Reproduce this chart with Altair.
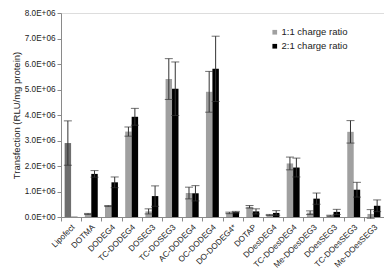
import altair as alt
import pandas as pd

categories = ["Lipofect", "DOTMA", "DODEG4", "TC-DODEG4", "DOSEG3", "TC-DOSEG3",
              "AC-DODEG4", "OC-DODEG4", "DO-DODEG4*", "DOTAP", "DOesDEG4",
              "TC-DOesDEG4", "Me-DOesDEG3", "DOesSEG3", "TC-DOesSEG3", "Me-DOesSEG3"]
series_names = ["1:1 charge ratio", "2:1 charge ratio"]
# values in units of 1E+06 RLU/mg protein
ratio_1_1 = [2.90, 0.12, 0.43, 3.35, 0.22, 5.41, 0.94, 4.91, 0.16, 0.40, 0.08, 2.10, 0.17, 0.05, 3.34, 0.12]
err_1_1 = [0.87, 0.02, 0.02, 0.18, 0.10, 0.80, 0.23, 0.80, 0.03, 0.05, 0.02, 0.25, 0.07, 0.02, 0.44, 0.17]
ratio_2_1 = [0.01, 1.69, 1.36, 3.93, 0.82, 5.03, 0.93, 5.81, 0.19, 0.22, 0.16, 1.94, 0.72, 0.20, 1.07, 0.44]
err_2_1 = [0.00, 0.13, 0.21, 0.33, 0.40, 1.05, 0.30, 1.28, 0.03, 0.10, 0.09, 0.37, 0.22, 0.10, 0.29, 0.23]
y_ticks = [0, 1e6, 2e6, 3e6, 4e6, 5e6, 6e6, 7e6, 8e6]

rows = []
for i, c in enumerate(categories):
    for s, vals, errs in ((series_names[0], ratio_1_1, err_1_1),
                          (series_names[1], ratio_2_1, err_2_1)):
        v = vals[i] * 1e6
        e = errs[i] * 1e6
        rows.append(dict(cat=c, series=s, value=v, err=e, lo=v - e, hi=v + e))
df = pd.DataFrame(rows)

FONT = "Liberation Sans"
TXT = "#222222"
AX = "#8a8a8a"

x_enc = alt.X("cat:N", sort=categories, title=None,
              scale=alt.Scale(paddingInner=0.36, paddingOuter=0.18),
              axis=alt.Axis(labelAngle=-45, labelAlign="right", labelBaseline="top",
                            labelFontSize=8.2, labelFont=FONT, labelColor=TXT,
                            bandPosition=0, tickOffset=-3.6, labelOffset=3,
                            tickSize=4, tickColor=AX, domainColor=AX,
                            labelPadding=2, labelOverlap=False, grid=False))
xoff = alt.XOffset("series:N", sort=series_names)
y_scale = alt.Scale(domain=[0, 8e6], nice=False)
y_axis = alt.Axis(values=y_ticks,
                  labelExpr="datum.value == 0 ? '0.0E+00' : format(datum.value / 1000000, '.1f') + 'E+06'",
                  labelFontSize=8.2, labelFont=FONT, labelColor=TXT,
                  tickSize=4, tickColor=AX, domainColor=AX, labelPadding=2,
                  titleFontSize=9.5, titleFont=FONT, titleFontWeight="normal",
                  titleColor=TXT, titlePadding=3, grid=False)
YT = "Transfection (RLU/mg protein)"

color = alt.condition(
    "datum.cat == 'Lipofect' && datum.series == '1:1 charge ratio'",
    alt.value("#6e6e6e"),
    alt.Color("series:N", sort=series_names,
              scale=alt.Scale(domain=series_names, range=["#a0a0a0", "#000000"]),
              legend=alt.Legend(title=None, orient="none", legendX=209, legendY=14.5,
                                symbolType="square", symbolSize=22, symbolStrokeWidth=0,
                                labelFontSize=9.5, labelFont=FONT, labelColor=TXT,
                                rowPadding=3, labelOffset=2, padding=0)))

base = alt.Chart(df)
bars = base.mark_bar().encode(
    x=x_enc, xOffset=xoff,
    y=alt.Y("value:Q", scale=y_scale, axis=y_axis, title=YT),
    color=color)

errs = base.transform_filter("datum.err > 0")
rule = errs.mark_rule(color="#333333", strokeWidth=1).encode(
    x=x_enc, xOffset=xoff,
    y=alt.Y("lo:Q", scale=y_scale, axis=y_axis, title=YT), y2="hi:Q")
cap_hi = errs.mark_tick(color="#333333", thickness=1, size=8).encode(
    x=x_enc, xOffset=xoff, y=alt.Y("hi:Q", scale=y_scale, axis=y_axis, title=YT))
cap_lo = errs.mark_tick(color="#333333", thickness=1, size=8).encode(
    x=x_enc, xOffset=xoff, y=alt.Y("lo:Q", scale=y_scale, axis=y_axis, title=YT))

chart = alt.layer(bars, rule, cap_hi, cap_lo).properties(
    width=323, height=204,
    autosize=alt.AutoSizeParams(type="none"),
    padding={"left": 53, "top": 5, "right": 0, "bottom": 53},
).configure_view(stroke=None).configure(font=FONT, background="white")

chart.save("out.html", embed_options={"renderer": "svg", "actions": False})
